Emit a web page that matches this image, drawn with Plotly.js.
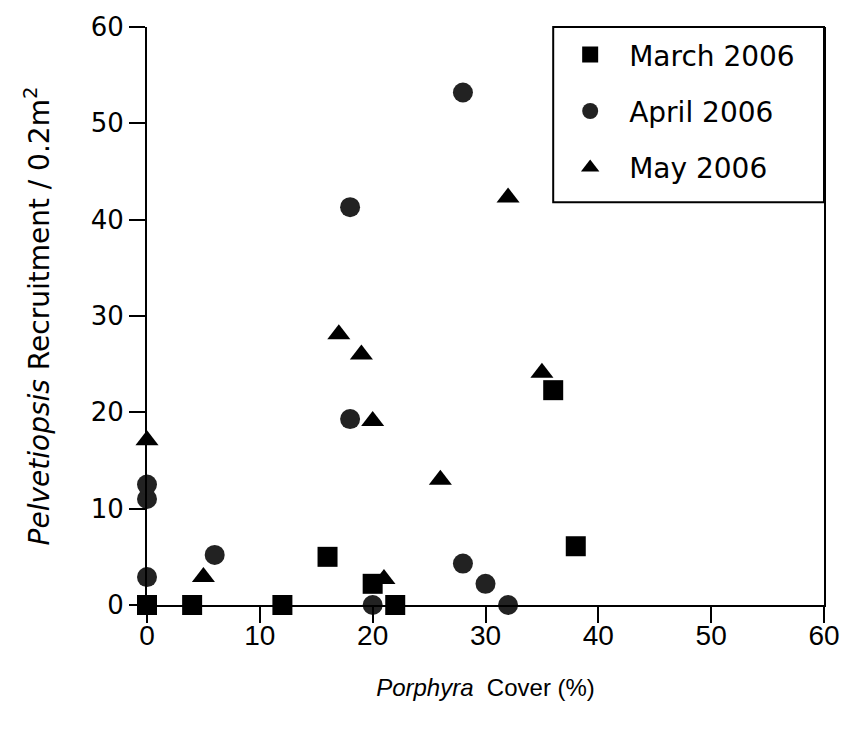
<!DOCTYPE html>
<html>
<head>
<meta charset="utf-8">
<script src="https://cdn.plot.ly/plotly-3.0.1.min.js"></script>
<style>
html,body{margin:0;padding:0;background:#fff;}
#chart{width:841px;height:729px;}
</style>
</head>
<body>
<div id="chart"></div>
<script>
const seriesNames = ["March 2006", "April 2006", "May 2006"];

const marchX = [0, 4, 12, 16, 20, 22, 36, 38];
const marchY = [0, 0, 0, 5, 2.2, 0, 22.3, 6.1];

const aprilX = [0, 0, 0, 6, 18, 18, 28, 20, 28, 30, 32];
const aprilY = [2.9, 11, 12.5, 5.2, 19.3, 41.3, 53.2, 0, 4.3, 2.2, 0];

const mayX = [0, 5, 17, 19, 20, 21, 26, 32, 35];
const mayY = [17.1, 2.9, 28.1, 26, 19.1, 2.7, 13, 42.3, 24.1];

const xTicks = [0, 10, 20, 30, 40, 50, 60];
const yTicks = [0, 10, 20, 30, 40, 50, 60];

const arial = "Liberation Sans, Arial, sans-serif";
const dejavu = "DejaVu Sans, sans-serif";

const traces = [
  {x: marchX, y: marchY, name: seriesNames[0], mode: "markers", type: "scatter", legendgroup: "a",
   cliponaxis: false, marker: {symbol: "square", size: 20, color: "#000"}},
  {x: aprilX, y: aprilY, name: seriesNames[1], mode: "markers", type: "scatter", legendgroup: "b",
   cliponaxis: false, marker: {symbol: "circle", size: 20, color: "#222"}},
  {x: mayX, y: mayY, name: seriesNames[2], mode: "markers", type: "scatter", legendgroup: "c",
   cliponaxis: false, marker: {symbol: "triangle-up", size: 20, color: "#000"}},
  {x: [], y: [], xaxis: "x2", yaxis: "y", showlegend: false, hoverinfo: "skip", type: "scatter", mode: "markers"}
];

const layout = {
  width: 841, height: 729,
  margin: {l: 147, r: 17, t: 27, b: 124},
  paper_bgcolor: "#fff", plot_bgcolor: "#fff",
  font: {family: arial, size: 24, color: "#000"},
  showlegend: true,
  legend: {x: 0.597, y: 0.995, xanchor: "left", yanchor: "top",
           bgcolor: "rgba(0,0,0,0)", borderwidth: 0, itemwidth: 68,
           font: {family: dejavu, size: 28, color: "#000"},
           tracegroupgap: 17, itemsizing: "trace"},
  xaxis: {range: [0, 60], tickvals: xTicks, ticktext: xTicks.map(String),
          showgrid: false, zeroline: false, showline: true, linecolor: "#000", linewidth: 2,
          ticks: "outside", ticklen: 4, tickwidth: 2, tickcolor: "#000",
          tickfont: {family: arial, size: 28},
          title: {text: "<i>Porphyra</i>  Cover (%)", font: {family: arial, size: 24}, standoff: 30},
          fixedrange: true},
  xaxis2: {range: [0, 60], overlaying: "x", anchor: "y", side: "bottom", tickvals: xTicks,
           showticklabels: false, showgrid: false, zeroline: false, showline: false,
           ticks: "outside", ticklen: 17, tickwidth: 2, tickcolor: "#000", fixedrange: true},
  yaxis: {range: [0, 60], tickvals: yTicks, ticktext: yTicks.map(String),
          showgrid: false, zeroline: false, showline: true, mirror: true, linecolor: "#000", linewidth: 2,
          ticks: "outside", ticklen: 16, tickwidth: 2, tickcolor: "#000",
          tickfont: {family: dejavu, size: 26},
          title: {text: "<i>Pelvetiopsis</i> Recruitment / 0.2m<sup>2</sup>", font: {family: dejavu, size: 28}, standoff: 33},
          fixedrange: true},
  shapes: [
    {type: "rect", xref: "paper", yref: "paper", x0: 0.6, x1: 1.0, y0: 0.697, y1: 1.0,
     line: {color: "#000", width: 2}, fillcolor: "#fff", layer: "below"}
  ]
};

Plotly.newPlot("chart", traces, layout, {displayModeBar: false, staticPlot: true});
</script>
</body>
</html>
